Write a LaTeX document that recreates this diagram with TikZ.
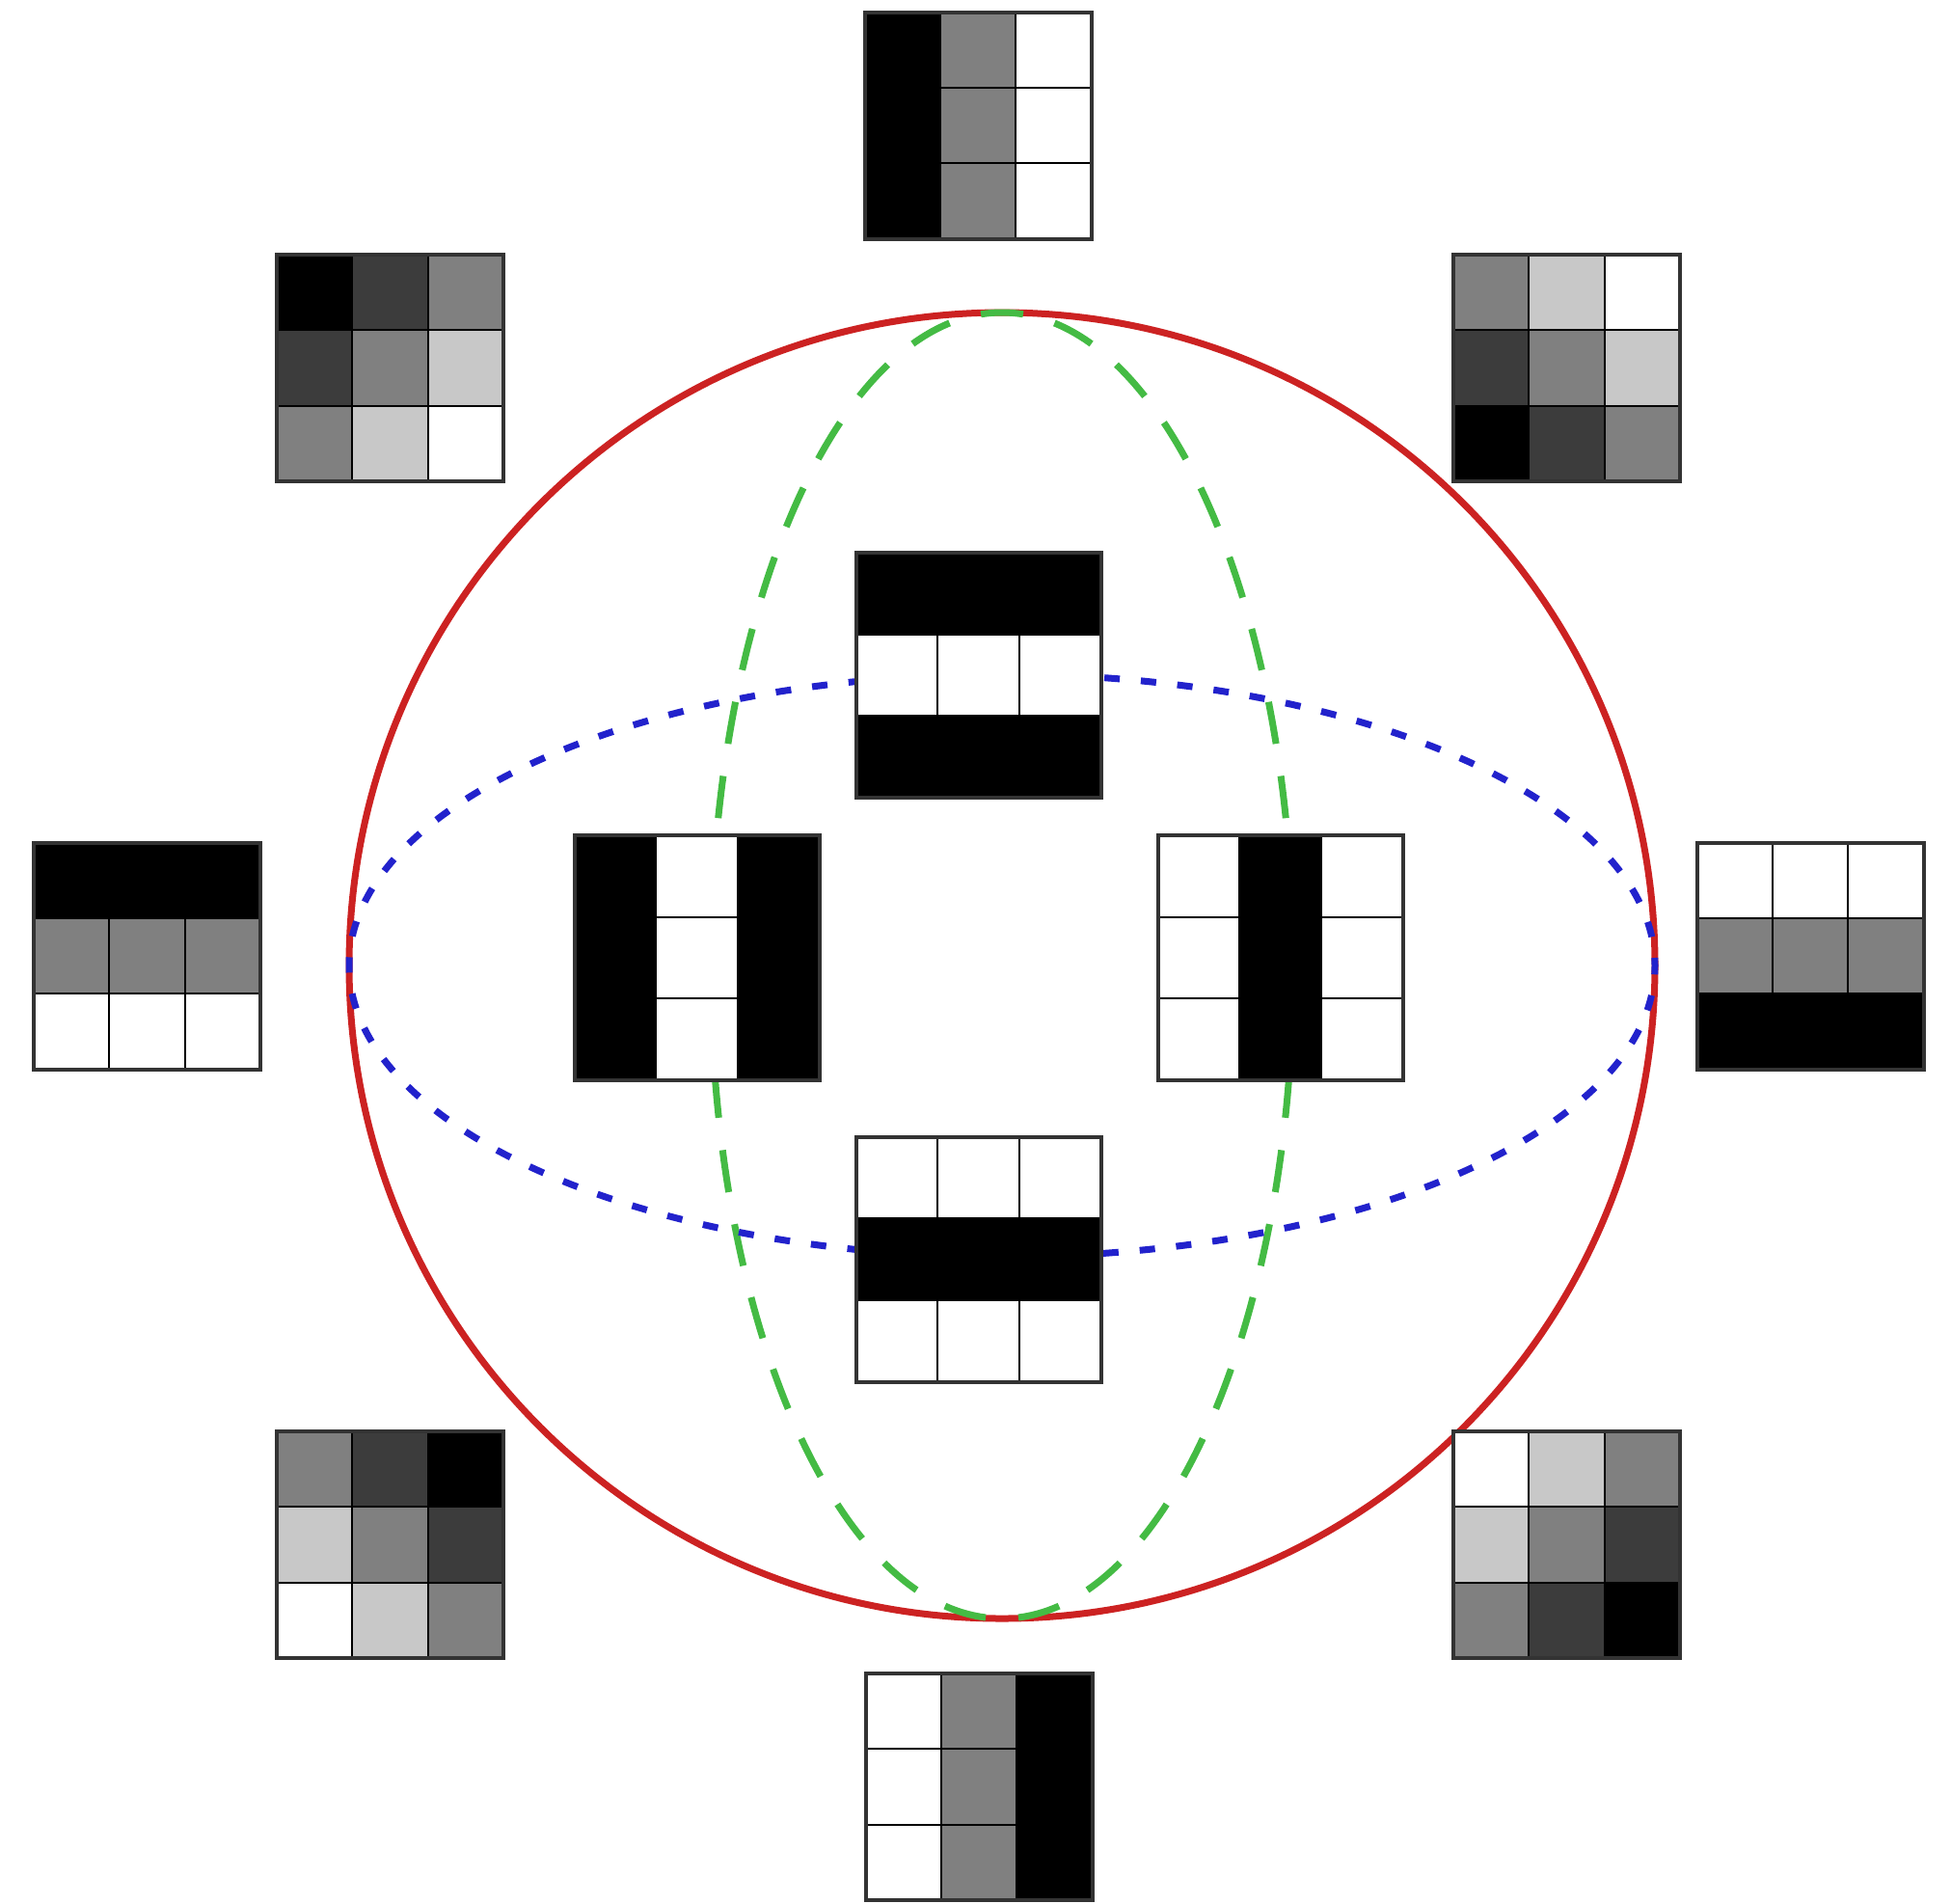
\documentclass[tikz,border=0pt]{standalone}
\definecolor{g0}{HTML}{000000}
\definecolor{g1}{HTML}{3C3C3C}
\definecolor{g2}{HTML}{808080}
\definecolor{g3}{HTML}{C8C8C8}
\definecolor{g4}{HTML}{FFFFFF}
\definecolor{framec}{HTML}{333333}
\definecolor{redc}{HTML}{CC2222}
\definecolor{greenc}{HTML}{44BB44}
\definecolor{bluec}{HTML}{2222CC}
\tikzset{
  innerline/.style={draw=black, line width=0.022cm},
  gridframe/.style={draw=framec, line width=0.04cm, rectangle, inner sep=0pt, outer sep=0pt},
  sphere/.style={draw=redc, line width=0.07cm},
  meridian/.style={draw=greenc, line width=0.07cm, dash pattern=on 0.44cm off 0.338cm, dash phase=0.22cm},
  equator/.style={draw=bluec, line width=0.07cm, dash pattern=on 0.16cm off 0.2196cm, dash phase=0.08cm}
}
% #1 name, #2 cx px, #3 cy px (downward), #4 size px, #5 nine shade values
\newcommand{\cellgrid}[5]{%
  \begin{scope}[shift={(#2/100,-#3/100)}]
    \pgfmathsetmacro\hs{#4/200}
    \pgfmathsetmacro\cs{#4/300}
    \pgfmathsetmacro\fs{#4/100}
    \foreach \v [count=\i from 0] in {#5} {
      \pgfmathtruncatemacro\rr{div(\i,3)}
      \pgfmathtruncatemacro\cc{mod(\i,3)}
      \fill[g\v] ({-\hs+\cc*\cs},{\hs-\rr*\cs}) rectangle ++(\cs,-\cs);
    }
    \foreach \k in {1,2} {
      \draw[innerline] ({-\hs+\k*\cs},-\hs) -- ({-\hs+\k*\cs},\hs);
      \draw[innerline] (-\hs,{-\hs+\k*\cs}) -- (\hs,{-\hs+\k*\cs});
    }
    \node[gridframe, minimum width=\fs cm, minimum height=\fs cm] (#1) at (0,0) {};
  \end{scope}}
\begin{document}
\begin{tikzpicture}
\useasboundingbox (0,0) rectangle (20.23,-19.73);
\coordinate (c) at (10.39,-10.01);
\coordinate (ntop) at (10.39,-3.24);
\draw[sphere] (c) circle [radius=6.77];
\draw[meridian] (ntop) arc [start angle=90, end angle=270, x radius=3.02, y radius=6.77];
\draw[meridian] (ntop) arc [start angle=90, end angle=-90, x radius=3.02, y radius=6.77];
\draw[equator] (c) ellipse [x radius=6.77, y radius=3.02];
% outer ring
\cellgrid{top}{1014}{130}{235}{0,2,4,0,2,4,0,2,4}
\cellgrid{topleft}{404.5}{381.5}{235}{0,1,2,1,2,3,2,3,4}
\cellgrid{topright}{1624.5}{381.5}{235}{2,3,4,1,2,3,0,1,2}
\cellgrid{left}{152.5}{991}{235}{0,0,0,2,2,2,4,4,4}
\cellgrid{right}{1877}{991}{235}{4,4,4,2,2,2,0,0,0}
\cellgrid{bottomleft}{404.5}{1601.5}{235}{2,1,0,3,2,1,4,3,2}
\cellgrid{bottomright}{1624.5}{1601.5}{235}{4,3,2,3,2,1,2,1,0}
\cellgrid{bottom}{1015}{1852.5}{235}{4,2,0,4,2,0,4,2,0}
% inner cross
\cellgrid{itop}{1014.5}{700}{254}{0,0,0,4,4,4,0,0,0}
\cellgrid{ileft}{722.5}{993}{254}{0,4,0,0,4,0,0,4,0}
\cellgrid{iright}{1327.5}{993}{254}{4,0,4,4,0,4,4,0,4}
\cellgrid{ibottom}{1014.5}{1305.5}{254}{4,4,4,0,0,0,4,4,4}
\end{tikzpicture}
\end{document}
